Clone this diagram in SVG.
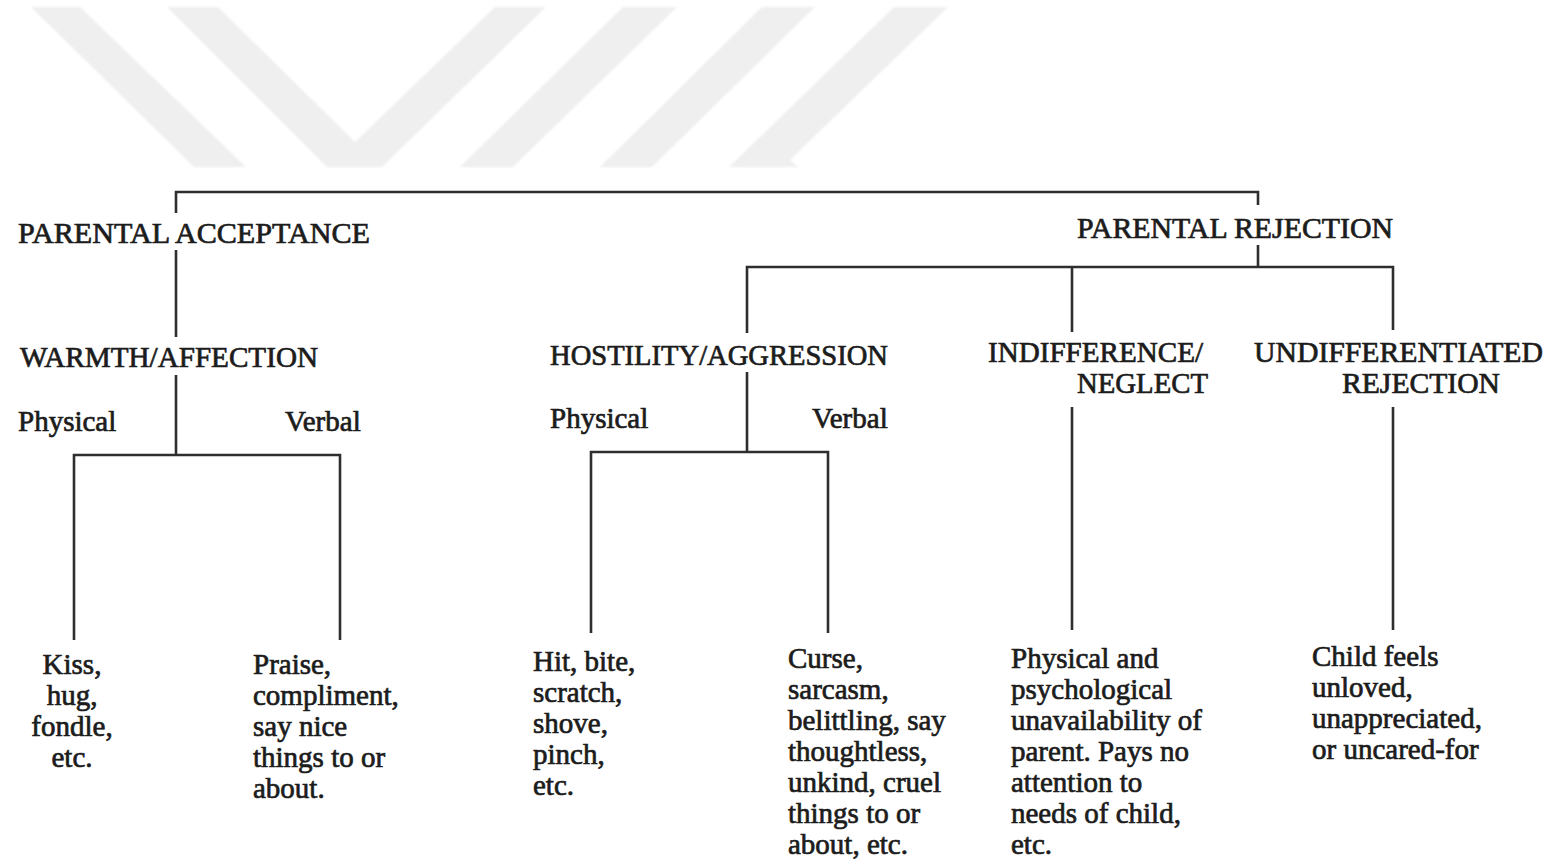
<svg xmlns="http://www.w3.org/2000/svg" width="1549" height="860" viewBox="0 0 1549 860">
  <style>
    .hd { font-family: "Liberation Serif", "Times New Roman", serif; font-size: 29px; fill: #1c1c1c; stroke: #1c1c1c; stroke-width: 0.7px; }
    .tx { font-family: "Liberation Serif", "Times New Roman", serif; font-size: 29px; fill: #1c1c1c; stroke: #1c1c1c; stroke-width: 0.7px; }
    .mid { text-anchor: middle; }
    .ln { fill: none; stroke: #2e2e2e; stroke-width: 2.6; stroke-linecap: butt; }
    .wm { fill: #efefef; }
  </style>
  <defs>
    <filter id="soft" x="-5%" y="-5%" width="110%" height="110%">
      <feGaussianBlur stdDeviation="1.2"/>
    </filter>
  </defs>
  <rect width="1549" height="860" fill="#ffffff"/>

  <!-- pale chevron band backdrop -->
  <g id="backdrop" filter="url(#soft)">
    <polygon class="wm" points="31,7 80,7 246,167 194,167"/>
    <polygon class="wm" points="167,7 218,7 355,142 495,7 546,7 382,167 327,167"/>
    <polygon class="wm" points="623,7 677,7 513,167 460,167"/>
    <polygon class="wm" points="762,7 815,7 652,167 600,167"/>
    <polygon class="wm" points="894,7 948,7 790,160 798,167 729,167"/>
  </g>

  <!-- tree connectors -->
  <g id="connectors" class="ln">
    <!-- root bar -->
    <polyline points="176,213 176,192 1258,192 1258,205"/>
    <!-- acceptance branch -->
    <line x1="176" y1="250" x2="176" y2="337"/>
    <line x1="176" y1="375" x2="176" y2="455"/>
    <polyline points="74,640 74,455 340,455 340,640"/>
    <!-- rejection branch -->
    <line x1="1258" y1="245" x2="1258" y2="267"/>
    <polyline points="747,333 747,267 1393,267 1393,330"/>
    <line x1="1072" y1="267" x2="1072" y2="332"/>
    <line x1="747" y1="372" x2="747" y2="452"/>
    <polyline points="591,633 591,452 828,452 828,633"/>
    <line x1="1072" y1="407" x2="1072" y2="630"/>
    <line x1="1393" y1="407" x2="1393" y2="630"/>
  </g>

  <g id="parental-acceptance">
    <text class="hd" x="18" y="243" textLength="352" lengthAdjust="spacingAndGlyphs">PARENTAL ACCEPTANCE</text>
  </g>
  <g id="parental-rejection">
    <text class="hd" x="1077" y="238" textLength="316" lengthAdjust="spacingAndGlyphs">PARENTAL REJECTION</text>
  </g>

  <g id="warmth-affection">
    <text class="hd" x="20" y="367" textLength="298" lengthAdjust="spacingAndGlyphs">WARMTH/AFFECTION</text>
    <text class="tx" x="18" y="431">Physical</text>
    <text class="tx" x="285" y="431">Verbal</text>
  </g>
  <g id="warmth-physical">
    <text class="tx mid" x="72" y="674">Kiss,</text>
    <text class="tx mid" x="72" y="705">hug,</text>
    <text class="tx mid" x="72" y="736">fondle,</text>
    <text class="tx mid" x="72" y="767">etc.</text>
  </g>
  <g id="warmth-verbal">
    <text class="tx" x="253" y="674">Praise,</text>
    <text class="tx" x="253" y="705">compliment,</text>
    <text class="tx" x="253" y="736">say nice</text>
    <text class="tx" x="253" y="767">things to or</text>
    <text class="tx" x="253" y="798">about.</text>
  </g>

  <g id="hostility-aggression">
    <text class="hd" x="550" y="365" textLength="338" lengthAdjust="spacingAndGlyphs">HOSTILITY/AGGRESSION</text>
    <text class="tx" x="550" y="428">Physical</text>
    <text class="tx" x="812" y="428">Verbal</text>
  </g>
  <g id="hostility-physical">
    <text class="tx" x="533" y="671">Hit, bite,</text>
    <text class="tx" x="533" y="702">scratch,</text>
    <text class="tx" x="533" y="733">shove,</text>
    <text class="tx" x="533" y="764">pinch,</text>
    <text class="tx" x="533" y="795">etc.</text>
  </g>
  <g id="hostility-verbal">
    <text class="tx" x="788" y="668">Curse,</text>
    <text class="tx" x="788" y="699">sarcasm,</text>
    <text class="tx" x="788" y="730">belittling, say</text>
    <text class="tx" x="788" y="761">thoughtless,</text>
    <text class="tx" x="788" y="792">unkind, cruel</text>
    <text class="tx" x="788" y="823">things to or</text>
    <text class="tx" x="788" y="854">about, etc.</text>
  </g>

  <g id="indifference-neglect">
    <text class="hd" x="988" y="362" textLength="215" lengthAdjust="spacingAndGlyphs">INDIFFERENCE/</text>
    <text class="hd" x="1077" y="393" textLength="131" lengthAdjust="spacingAndGlyphs">NEGLECT</text>
  </g>
  <g id="neglect-detail">
    <text class="tx" x="1011" y="668">Physical and</text>
    <text class="tx" x="1011" y="699">psychological</text>
    <text class="tx" x="1011" y="730">unavailability of</text>
    <text class="tx" x="1011" y="761">parent. Pays no</text>
    <text class="tx" x="1011" y="792">attention to</text>
    <text class="tx" x="1011" y="823">needs of child,</text>
    <text class="tx" x="1011" y="854">etc.</text>
  </g>

  <g id="undifferentiated-rejection">
    <text class="hd" x="1254" y="362" textLength="289" lengthAdjust="spacingAndGlyphs">UNDIFFERENTIATED</text>
    <text class="hd" x="1342" y="393" textLength="158" lengthAdjust="spacingAndGlyphs">REJECTION</text>
  </g>
  <g id="undifferentiated-detail">
    <text class="tx" x="1312" y="666">Child feels</text>
    <text class="tx" x="1312" y="697">unloved,</text>
    <text class="tx" x="1312" y="728">unappreciated,</text>
    <text class="tx" x="1312" y="759">or uncared-for</text>
  </g>
</svg>
